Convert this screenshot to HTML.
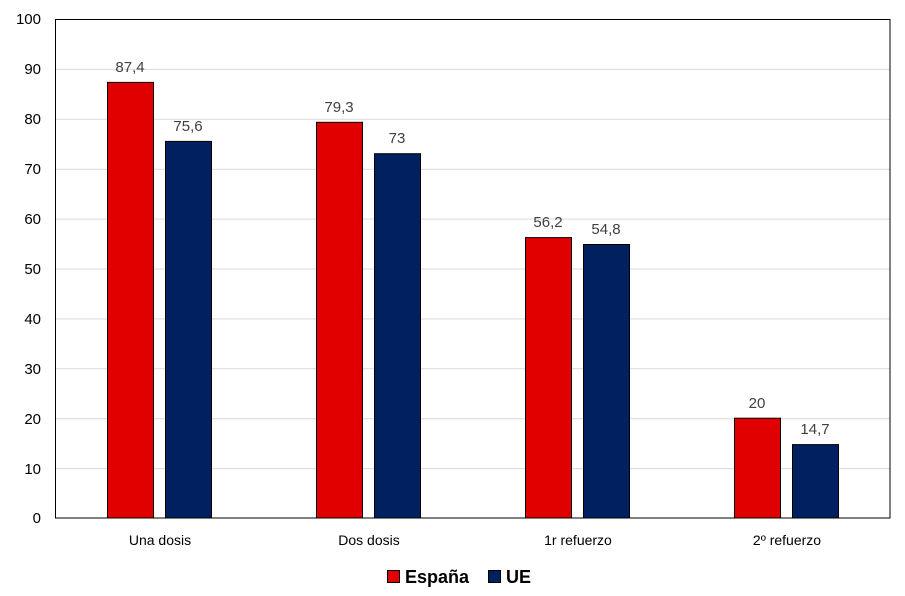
<!DOCTYPE html>
<html><head><meta charset="utf-8"><style>body{margin:0;background:#fff}svg{display:block}</style></head><body>
<svg width="905" height="596" xmlns="http://www.w3.org/2000/svg" font-family="Liberation Sans, sans-serif">
<rect width="905" height="596" fill="#fff"/>
<g stroke="#d9d9d9" stroke-width="1">
<line x1="55" x2="890" y1="468.6" y2="468.6"/><line x1="55" x2="890" y1="418.7" y2="418.7"/>
<line x1="55" x2="890" y1="368.8" y2="368.8"/><line x1="55" x2="890" y1="318.9" y2="318.9"/>
<line x1="55" x2="890" y1="269" y2="269"/><line x1="55" x2="890" y1="219.1" y2="219.1"/>
<line x1="55" x2="890" y1="169.2" y2="169.2"/><line x1="55" x2="890" y1="119.3" y2="119.3"/>
<line x1="55" x2="890" y1="69.4" y2="69.4"/>
</g>
<g stroke="#000" stroke-width="1">
<rect x="107.5" y="82.4" width="46" height="435.6" fill="#e00000"/>
<rect x="165.5" y="141.4" width="46" height="376.6" fill="#002060"/>
<rect x="316.5" y="122.3" width="46" height="395.7" fill="#e00000"/>
<rect x="374.5" y="153.7" width="46" height="364.3" fill="#002060"/>
<rect x="525.5" y="237.6" width="46" height="280.4" fill="#e00000"/>
<rect x="583.5" y="244.5" width="46" height="273.5" fill="#002060"/>
<rect x="734.5" y="418.2" width="46" height="99.8" fill="#e00000"/>
<rect x="792.5" y="444.6" width="46" height="73.4" fill="#002060"/>
</g>
<rect x="55.5" y="19.5" width="834.5" height="498.5" fill="none" stroke="#000" stroke-width="1"/>
<g font-size="15" fill="#000" text-anchor="end">
<text x="41" y="24">100</text><text x="41" y="74">90</text><text x="41" y="124">80</text>
<text x="41" y="174">70</text><text x="41" y="224">60</text><text x="41" y="274">50</text>
<text x="41" y="324">40</text><text x="41" y="374">30</text><text x="41" y="424">20</text>
<text x="41" y="474">10</text><text x="41" y="523">0</text>
</g>
<g font-size="15" fill="#404040" text-anchor="middle">
<text x="130" y="72">87,4</text><text x="188" y="131">75,6</text>
<text x="339" y="112">79,3</text><text x="397" y="143">73</text>
<text x="548" y="227">56,2</text><text x="606" y="234">54,8</text>
<text x="757" y="408">20</text><text x="815" y="434">14,7</text>
</g>
<g font-size="14" fill="#000" text-anchor="middle">
<text x="160" y="545">Una dosis</text><text x="369" y="545">Dos dosis</text>
<text x="578" y="545">1r refuerzo</text><text x="787" y="545">2º refuerzo</text>
</g>
<rect x="387.5" y="570.5" width="12" height="12" fill="#e00000" stroke="#000"/>
<text x="405" y="583" font-size="18" font-weight="bold">España</text>
<rect x="488.5" y="570.5" width="12" height="12" fill="#002060" stroke="#000"/>
<text x="506" y="583" font-size="18" font-weight="bold">UE</text>
</svg>
</body></html>
